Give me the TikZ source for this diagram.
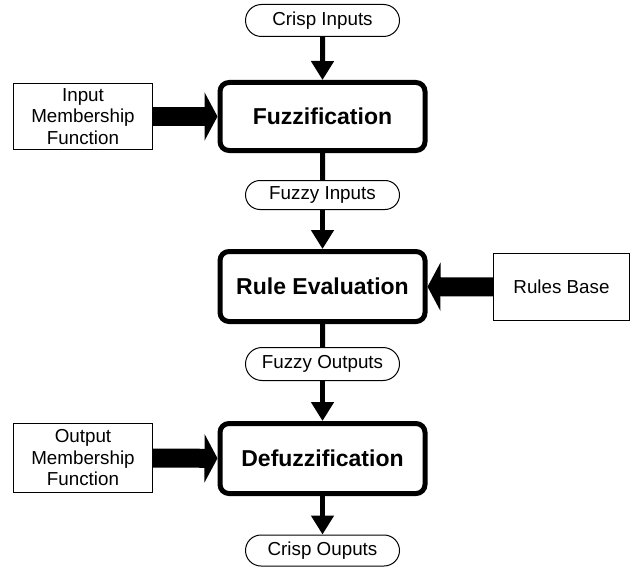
\documentclass[tikz,border=0pt]{standalone}
\usepackage{fontspec}
\setmainfont{Liberation Sans}
\usetikzlibrary{arrows.meta,shapes.misc}

\begin{document}
\begin{tikzpicture}[x=1pt,y=-1pt,
  term/.style={draw, rounded rectangle, line width=1pt, minimum width=154pt,
    inner sep=0pt, font=\fontsize{18.8}{21.5}\selectfont},
  proc/.style={draw, rounded corners=9pt, line width=5pt, minimum width=205pt,
    minimum height=68pt, inner sep=0pt, font=\fontsize{23}{26}\selectfont\bfseries},
  src/.style={draw, line width=1.3pt, align=center, inner sep=0pt,
    font=\fontsize{18.8}{21.5}\selectfont},
  flow/.style={line width=5pt, -{Triangle[length=19pt,width=22pt]}},
  feed/.style={line width=19pt, -{Triangle[length=13pt,width=48pt]}},
]
\useasboundingbox (0,0) rectangle (631,567);

% main chain
\node[term, minimum height=32pt] (ci) at (322.5,20.5) {Crisp Inputs};
\node[proc] (fz) at (322.5,116.5) {Fuzzification};
\node[term, minimum height=29pt] (fi) at (322.5,195) {Fuzzy Inputs};
\node[proc, minimum height=70pt] (re) at (322.5,286.5) {Rule Evaluation};
\node[term, minimum height=33pt] (fo) at (322.5,364) {Fuzzy Outputs};
\node[proc, minimum height=70pt] (df) at (322.5,458.5) {Defuzzification};
\node[term, minimum height=31pt] (co) at (322.5,550.5) {Crisp Ouputs};

% side inputs
\node[src, minimum width=139pt, minimum height=66pt] (imf) at (83,116.5)
  {Input\\Membership\\Function};
\node[src, minimum width=136pt, minimum height=67pt] (rb) at (561.5,287) {Rules Base};
\node[src, minimum width=139pt, minimum height=69pt] (omf) at (83,458)
  {Output\\Membership\\Function};

% connectors
\draw[flow] (ci) -- (fz);
\draw[line width=5pt] (fz) -- (fi);
\draw[flow] (fi) -- (re);
\draw[line width=5pt] (re) -- (fo);
\draw[flow] (fo) -- (df);
\draw[flow] (df) -- (co);

\draw[feed] (imf) -- (fz);
\draw[feed] (rb) -- (re);
\draw[feed] (omf) -- (df);
\end{tikzpicture}
\end{document}
